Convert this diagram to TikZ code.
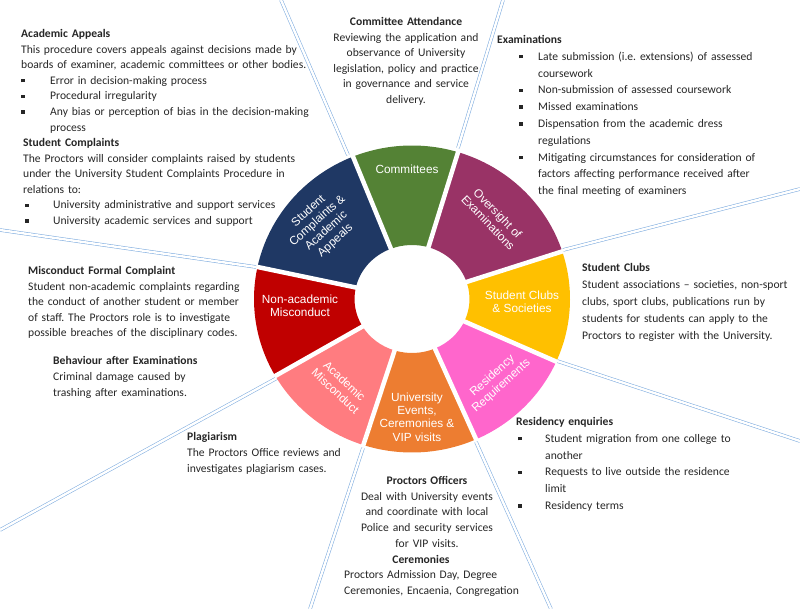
\documentclass[tikz,border=0pt]{standalone}
\usepackage{fontspec}
\setmainfont{Carlito}
\newfontfamily\ringfont{Liberation Sans}
\usetikzlibrary{positioning}
\definecolor{ComGreen}{HTML}{548235}
\definecolor{ExamPlum}{HTML}{993366}
\definecolor{ClubGold}{HTML}{FFC000}
\definecolor{ResPink}{HTML}{FF66CC}
\definecolor{EventOrange}{HTML}{ED7D31}
\definecolor{AcadSalmon}{HTML}{FF7C80}
\definecolor{ConductRed}{HTML}{C00000}
\definecolor{AppealNavy}{HTML}{1F3864}
\definecolor{GuideBlue}{HTML}{7FACDF}
\definecolor{Ink}{HTML}{262626}

% square bullet and a bullet cell of given offset/width
\newcommand{\sqbox}{\rule[1.9pt]{3.4pt}{3.4pt}}
\newcommand{\bitem}[2]{\hspace*{#1}\makebox[#2][l]{\sqbox}}
\frenchspacing

\begin{document}
\begin{tikzpicture}[x=1pt,y=1pt,
    blurb/.style={anchor=base west,align=left,text width=320pt,inner sep=0pt,
      text=Ink,font=\fontsize{11.6}{#1}\selectfont},
    blurb/.default=15.6,
    cblurb/.style={blurb=#1,anchor=base,align=center,text width=220pt},
    cblurb/.default=15.6,
    seglabel/.style={text=white,align=center,inner sep=0pt,
      font=\ringfont\fontsize{11.8}{13.3}\selectfont},
    guide/.style={draw=GuideBlue,line width=0.55pt,double=white,double distance=2.4pt}
  ]
  \useasboundingbox (0,0) rectangle (800,-609);

  % guide lines out of the ring
  \foreach \p/\q in {{348,-155}/{281,0},{458,-148}/{503,0},{563,-250}/{800,-189},
      {557,-361}/{800,-441},{476,-442}/{551,-609},{363,-448}/{310,-609},
      {277,-378}/{0,-530},{256,-267}/{0,-230}}
    \draw[guide] (\p) -- (\q);

  % the ring
  \begin{scope}[shift={(412,-299)}]
    \foreach \a/\b/\c in {73/112/ComGreen,18/73/ExamPlum,-24/18/ClubGold,
        -66/-24/ResPink,-108/-66/EventOrange,-150/-108/AcadSalmon,
        168/210/ConductRed,112/168/AppealNavy}
      \fill[\c] (\a:158 and 153.5) arc[start angle=\a,end angle=\b,x radius=158,y radius=153.5]
        -- (\b:57.5 and 54) arc[start angle=\b,end angle=\a,x radius=57.5,y radius=54] -- cycle;
    \foreach \a in {112,73,18,-24,-66,-108,-150,168}
      \draw[white,line width=4.5pt] (\a:50 and 48) -- (\a:159 and 155);
  \end{scope}

  \node[seglabel] (committees) at (407,-169) {Committees};
  \node[seglabel,rotate=-46] (oversight) at (493,-218) {Oversight of\\Examinations};
  \node[seglabel] (clubs) at (522,-302) {Student Clubs\\\& Societies};
  \node[seglabel,rotate=42] (residency) at (497,-381) {Residency\\Requirements};
  \node[seglabel] (events) at (417,-417) {University\\Events,\\Ceremonies \&\\VIP visits};
  \node[seglabel,rotate=-43] (academic) at (340,-386) {Academic\\Misconduct};
  \node[seglabel] (conduct) at (300,-306) {Non-academic\\Misconduct};
  \node[seglabel,rotate=42] (appeals) at (322,-226) {Student\\Complaints \&\\Academic\\Appeals};

  % text blocks
  \node[blurb] (appealsText) at (21,-37.5) {\textbf{Academic Appeals}\\
    This procedure covers appeals against decisions made by\\
    boards of examiner, academic committees or other bodies.\\
    \bitem{0pt}{29pt}Error in decision-making process\\
    \bitem{0pt}{29pt}Procedural irregularity\\
    \bitem{0pt}{29pt}Any bias or perception of bias in the decision-making\\
    \hspace*{29pt}process};
  \node[blurb] (complaintsText) at (23,-146.5) {\textbf{Student Complaints}\\
    The Proctors will consider complaints raised by students\\
    under the University Student Complaints Procedure in\\
    relations to:\\
    \bitem{2pt}{28pt}University administrative and support services\\
    \bitem{2pt}{28pt}University academic services and support};
  \node[cblurb] (attendText) at (406,-25.5) {\textbf{Committee Attendance}\\
    Reviewing the application and\\
    observance of University\\
    legislation, policy and practice\\
    in governance and service\\
    delivery.};
  \node[blurb=16.8] (examText) at (497,-43.5) {\textbf{Examinations}\\
    \bitem{22pt}{19pt}Late submission (i.e. extensions) of assessed\\
    \hspace*{41pt}coursework\\
    \bitem{22pt}{19pt}Non-submission of assessed coursework\\
    \bitem{22pt}{19pt}Missed examinations\\
    \bitem{22pt}{19pt}Dispensation from the academic dress\\
    \hspace*{41pt}regulations\\
    \bitem{22pt}{19pt}Mitigating circumstances for consideration of\\
    \hspace*{41pt}factors affecting performance received after\\
    \hspace*{41pt}the final meeting of examiners};
  \node[blurb=17] (clubsText) at (582,-271.5) {\textbf{Student Clubs}\\
    Student associations – societies, non-sport\\
    clubs, sport clubs, publications run by\\
    students for students can apply to the\\
    Proctors to register with the University.};
  \node[blurb=16.8] (residText) at (516,-425.5) {\textbf{Residency enquiries}\\
    \bitem{2pt}{27pt}Student migration from one college to\\
    \hspace*{29pt}another\\
    \bitem{2pt}{27pt}Requests to live outside the residence\\
    \hspace*{29pt}limit\\
    \bitem{2pt}{27pt}Residency terms};
  \node[blurb] (conductText) at (28,-274.5) {\textbf{Misconduct Formal Complaint}\\
    Student non-academic complaints regarding\\
    the conduct of another student or member\\
    of staff. The Proctors role is to investigate\\
    possible breaches of the disciplinary codes.};
  \node[blurb=16] (behaviourText) at (53,-364.5) {\textbf{Behaviour after Examinations}\\
    Criminal damage caused by\\
    trashing after examinations.};
  \node[blurb=16] (plagText) at (187,-440.5) {\textbf{Plagiarism}\\
    The Proctors Office reviews and\\
    investigates plagiarism cases.};
  \node[cblurb=15.7] (officersText) at (427,-484.5) {\textbf{Proctors Officers}\\
    Deal with University events\\
    and coordinate with local\\
    Police and security services\\
    for VIP visits.};
  \node[cblurb] (cerTitle) at (421,-563.5) {\textbf{Ceremonies}};
  \node[blurb=16] (cerText) at (344,-578.5) {Proctors Admission Day, Degree\\
    Ceremonies, Encaenia, Congregation};
\end{tikzpicture}
\end{document}
